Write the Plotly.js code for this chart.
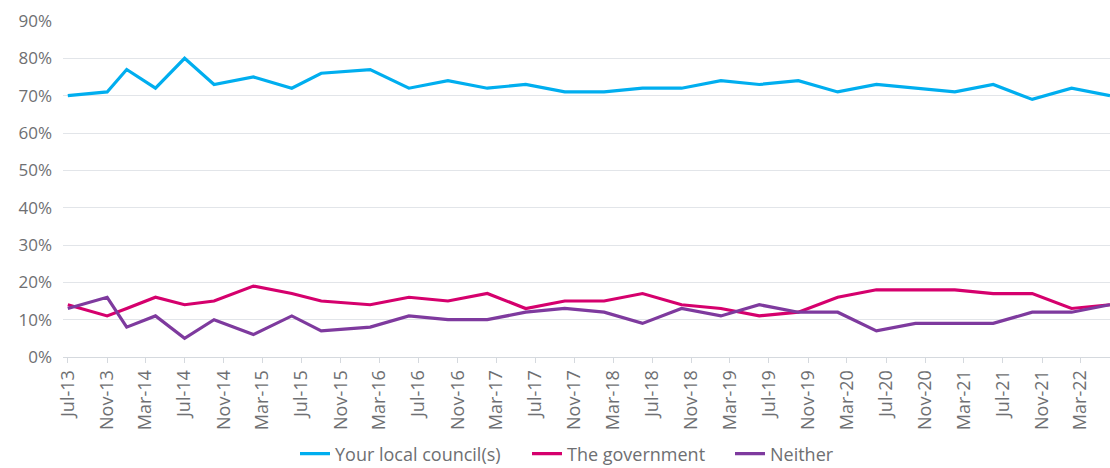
<!DOCTYPE html>
<html>
<head>
<meta charset="utf-8">
<script src="https://cdn.plot.ly/plotly-3.0.1.min.js"></script>
<style>
  html, body { margin: 0; padding: 0; background: #fff; }
  #chart { width: 1110px; height: 468px; }
</style>
</head>
<body>
<div id="chart"></div>
<script>
// survey waves (month of fieldwork)
var waves = [
    "2013-07", "2013-11", "2014-01", "2014-04", "2014-07", "2014-10",
    "2015-02", "2015-06", "2015-09", "2016-02", "2016-06", "2016-10",
    "2017-02", "2017-06", "2017-10", "2018-02", "2018-06", "2018-10",
    "2019-02", "2019-06", "2019-10", "2020-02", "2020-06", "2020-10",
    "2021-02", "2021-06", "2021-10", "2022-02", "2022-06"
];

// % of residents who trust each most to make decisions about local services
var localCouncil = [70, 71, 77, 72, 80, 73, 75, 72, 76, 77, 72, 74, 72, 73, 71,
                    71, 72, 72, 74, 73, 74, 71, 73, 72, 71, 73, 69, 72, 70];
var government   = [14, 11, 13, 16, 14, 15, 19, 17, 15, 14, 16, 15, 17, 13, 15,
                    15, 17, 14, 13, 11, 12, 16, 18, 18, 18, 17, 17, 13, 14];
var neither      = [13, 16, 8, 11, 5, 10, 6, 11, 7, 8, 11, 10, 10, 12, 13,
                    12, 9, 13, 11, 14, 12, 12, 7, 9, 9, 9, 12, 12, 14];

var seriesNames = ["Your local council(s)", "The government", "Neither"];
var seriesColors = ["#00AEEF", "#D5006D", "#7E3A9E"];
var legendIds = ["legend", "legend2", "legend3"];

var textColor = "#6E6F72";
var gridColor = "#E2E5E9";

var traces = [localCouncil, government, neither].map(function(vals, i) {
    return {
        x: waves,
        y: vals,
        name: seriesNames[i],
        legend: legendIds[i],
        type: "scatter",
        mode: "lines",
        line: {color: seriesColors[i], width: 3.2},
        hoverinfo: "x+y+name"
    };
});

// one legend box per series so the gaps can follow the original
function legendAt(xpx) {
    return {
        orientation: "h",
        xref: "container",
        yref: "container",
        x: xpx / 1110,
        xanchor: "left",
        y: 14 / 468,
        yanchor: "middle",
        font: {size: 18, color: textColor},
        itemwidth: 30,
        bgcolor: "rgba(0,0,0,0)"
    };
}

var layout = {
    width: 1110,
    height: 468,
    paper_bgcolor: "#ffffff",
    plot_bgcolor: "#ffffff",
    margin: {l: 63, r: 0, t: 21, b: 111},
    font: {family: "Open Sans, sans-serif", size: 17, color: textColor},
    showlegend: true,
    legend: legendAt(295),
    legend2: legendAt(527),
    legend3: legendAt(730),
    xaxis: {
        type: "date",
        range: ["2013-06-16", "2022-06-01"],
        tick0: "2013-07-01",
        dtick: "M4",
        tickformat: "%b-%y",
        tickangle: -90,
        ticks: "outside",
        ticklen: 5,
        tickcolor: "#D5D9DE",
        showline: true,
        linecolor: "#D5D9DE",
        linewidth: 1,
        showgrid: false,
        automargin: false,
        tickfont: {size: 18, color: textColor},
        fixedrange: true
    },
    yaxis: {
        range: [0, 90],
        dtick: 10,
        ticksuffix: "%",
        showgrid: true,
        gridcolor: gridColor,
        gridwidth: 1,
        zeroline: false,
        showline: false,
        ticks: "",
        ticklabelstandoff: 10,
        automargin: false,
        tickfont: {size: 17, color: textColor},
        fixedrange: true
    }
};

Plotly.newPlot("chart", traces, layout, {displayModeBar: false, staticPlot: true});
</script>
</body>
</html>
